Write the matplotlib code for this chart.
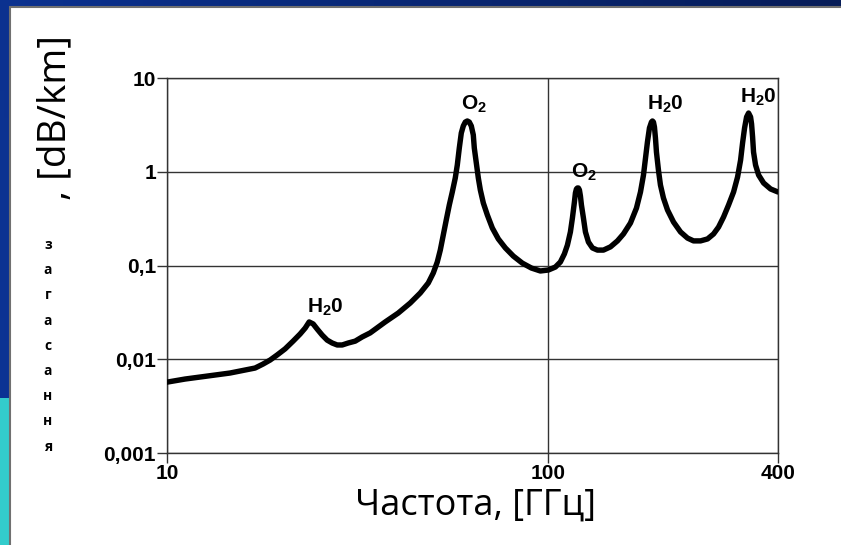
import numpy as np
import matplotlib
matplotlib.use("Agg")
import matplotlib.pyplot as plt
from matplotlib.patches import Rectangle

plt.rcParams["mathtext.default"] = "regular"

# Frequency [GHz] and attenuation [dB/km]
freq = [10.0, 11.15, 12.21, 13.37, 14.63, 16.02, 17.02, 17.86, 18.64, 19.44,
        20.40, 21.41, 22.34, 23.03, 23.59, 24.17, 24.76, 25.52, 26.30, 27.11,
        27.94, 28.80, 29.86, 31.15, 32.50, 34.10, 37.34, 40.39, 43.43, 46.14,
        48.43, 49.91, 51.13, 52.07, 53.02, 53.98, 54.98, 55.98, 57.00, 57.70,
        58.40, 59.11, 59.83, 60.56, 61.29, 62.03, 62.79, 63.55, 63.94, 64.72,
        65.51, 66.31, 67.52, 69.17, 71.29, 73.92, 77.11, 80.93, 85.45, 90.23,
        95.27, 100.0, 104.32, 107.52, 110.15, 112.17, 114.22, 115.61, 117.02,
        117.73, 118.44, 119.16, 119.88, 120.61, 121.34, 122.08, 123.56, 125.07,
        127.35, 130.46, 134.46, 139.43, 145.45, 151.74, 157.34, 164.14, 170.20,
        174.37, 177.56, 179.70, 181.87, 184.08, 186.31, 187.44, 188.58, 189.72,
        190.87, 192.03, 194.36, 196.71, 200.30, 205.28, 212.86, 222.06, 231.65,
        240.20, 250.58, 261.41, 271.06, 279.38, 287.95, 296.79, 305.88, 313.37,
        319.12, 323.0, 326.9, 330.9, 334.89, 338.95, 341.0, 343.1, 345.1, 349.3,
        355.78, 366.69, 382.53, 400.0]
atten = [0.0057, 0.00615, 0.00646, 0.00678, 0.00713, 0.00767, 0.00806, 0.00889,
         0.00981, 0.0111, 0.0129, 0.0156, 0.0186, 0.0215, 0.0250, 0.0238,
         0.0210, 0.0181, 0.0160, 0.0149, 0.0142, 0.0142, 0.0149, 0.0156,
         0.0173, 0.0191, 0.0250, 0.0311, 0.0398, 0.0509, 0.0651, 0.0832, 0.109,
         0.146, 0.212, 0.306, 0.442, 0.608, 0.858, 1.18, 1.79, 2.59, 3.08, 3.39,
         3.48, 3.39, 3.08, 2.47, 1.79, 1.24, 0.858, 0.639, 0.464, 0.346, 0.251,
         0.192, 0.154, 0.126, 0.106, 0.0940, 0.0874, 0.0895, 0.0963, 0.109,
         0.133, 0.165, 0.228, 0.321, 0.476, 0.594, 0.655, 0.671, 0.671, 0.639,
         0.551, 0.442, 0.321, 0.228, 0.178, 0.154, 0.146, 0.146, 0.158, 0.183,
         0.217, 0.284, 0.410, 0.608, 0.923, 1.40, 2.08, 2.93, 3.39, 3.48, 3.39,
         3.00, 2.29, 1.62, 1.04, 0.722, 0.525, 0.391, 0.291, 0.228, 0.196,
         0.183, 0.183, 0.192, 0.217, 0.257, 0.329, 0.442, 0.608, 0.879, 1.33,
         2.03, 2.93, 3.84, 4.23, 3.84, 3.23, 2.35, 1.62, 1.18, 0.923, 0.759,
         0.655, 0.608]

xticks = [10, 100, 400]
xtick_labels = ["10", "100", "400"]
yticks = [0.001, 0.01, 0.1, 1, 10]
ytick_labels = ["0,001", "0,01", "0,1", "1", "10"]

# peak labels: (text, freq, attenuation at text baseline)
peak_labels = [
    ("H$_2$0", 25.98, 0.0311),
    ("O$_2$", 63.9, 4.56),
    ("O$_2$", 124.3, 0.858),
    ("H$_2$0", 202.8, 4.56),
    ("H$_2$0", 355.8, 5.41),
]

W, H = 841, 545
fig = plt.figure(figsize=(W / 100, H / 100), dpi=100)

# background
bg = fig.add_axes([0, 0, 1, 1], zorder=-10)
bg.set_xlim(0, W)
bg.set_ylim(H, 0)
bg.axis("off")
gx = np.linspace(0, 1, 200)[None, :]
gy = np.linspace(0, 1, 120)[:, None]
c_left = np.array([12, 52, 150]) / 255
c_right = np.array([6, 28, 88]) / 255
t = np.clip(gx * 0.9 + (1 - gy) * 0.1, 0, 1)[..., None]
grad = c_left * (1 - t) + c_right * t
bg.imshow(grad, extent=[0, W, H, 0], aspect="auto", zorder=0)
bg.add_patch(Rectangle((0, 398), 10, H - 398, facecolor="#33cccc",
                       edgecolor="none", zorder=1))
bg.add_patch(Rectangle((10, 7), W, H, facecolor="white",
                       edgecolor="#707070", linewidth=1.5, zorder=2))

# y-axis label pieces
bg.text(55, 118, ", [dB/km]", rotation=90, ha="center", va="center",
        fontsize=28, family="Open Sans", color="black", zorder=3)
letters = list("загасання")
for i, ch in enumerate(letters):
    bg.text(48, 245 + i * 25.2, ch, ha="center", va="center", fontsize=10,
            fontweight="bold", family="Open Sans", color="black", zorder=3)

# x-axis label
bg.text(476, 506, "Частота, [ГГц]", ha="center", va="center",
        fontsize=26, family="Open Sans", color="black", zorder=3)

ax = fig.add_axes([167 / W, 1 - 453 / H, (778 - 167) / W, (453 - 78) / H])
ax.set_facecolor("none")
ax.plot(freq, atten, color="black", lw=3.9, solid_capstyle="round",
        solid_joinstyle="round", zorder=3)
ax.set_xscale("log")
ax.set_yscale("log")
ax.set_xlim(10, 400)
ax.set_ylim(0.001, 10)
ax.minorticks_off()
ax.set_xticks(xticks)
ax.set_xticklabels(xtick_labels)
ax.set_yticks(yticks)
ax.set_yticklabels(ytick_labels)
for lab in ax.get_xticklabels() + ax.get_yticklabels():
    lab.set_fontweight("bold")
    lab.set_fontsize(15)
    lab.set_family("Liberation Sans")
ax.tick_params(length=7, width=1, color="#333333", pad=1)
ax.grid(True, color="#333333", lw=1)
for s in ax.spines.values():
    s.set_color("#333333")
    s.set_linewidth(1)

for txt, f, a in peak_labels:
    ax.text(f, a, txt, ha="center", va="baseline", fontsize=15,
            fontweight="bold", family="Liberation Sans", zorder=4)

fig.savefig("out.png", dpi=100)
